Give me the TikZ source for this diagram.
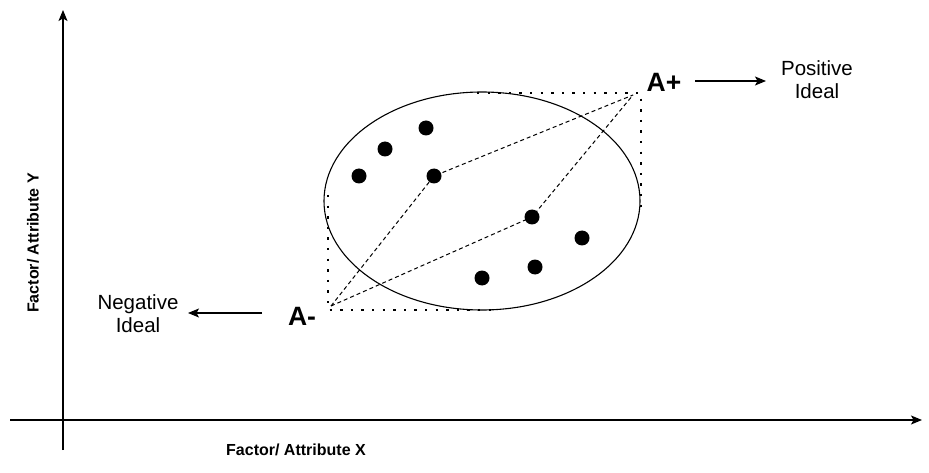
\documentclass[tikz,border=0pt]{standalone}
\usepackage{fontspec}
\setmainfont{Liberation Sans}
\usetikzlibrary{arrows.meta}
\begin{document}
\begin{tikzpicture}[x=1pt,y=-1pt,
  axis/.style={line width=1.4pt,-{Stealth[length=11pt,width=9pt,inset=2.5pt]}},
  lblarrow/.style={line width=1.3pt,-{Stealth[length=11pt,width=9pt,inset=2.5pt]}},
  dotline/.style={line width=2.4pt,dash pattern=on 2.4pt off 8.2pt},
  dashline/.style={line width=1pt,dash pattern=on 4pt off 3pt},
  pt/.style={circle,fill=black,inner sep=0pt,minimum size=15pt},
  axlabel/.style={font=\bfseries\fontsize{16}{19}\selectfont,inner sep=0pt},
  biglabel/.style={font=\bfseries\fontsize{26.5}{30}\selectfont,inner sep=0pt,anchor=base},
  ideal/.style={font=\fontsize{20.5}{23}\selectfont,inner sep=0pt,align=center,anchor=base}]
\useasboundingbox (0,0) rectangle (929,473);
% axes
\coordinate (ybot) at (63,450);
\coordinate (ytop) at (63,10);
\coordinate (xleft) at (10,420);
\coordinate (xright) at (922,420);
\draw[axis] (ybot) -- (ytop);
\draw[axis] (xleft) -- (xright);
\node[axlabel,rotate=90] (ylab) at (33,243) {Factor/ Attribute Y};
\node[axlabel,anchor=base] (xlab) at (296,455) {Factor/ Attribute X};
% ellipse
\draw[line width=1.1pt] (482,201) ellipse [x radius=158, y radius=109];
% dotted bounds
\coordinate (t1) at (477,93);
\coordinate (t2) at (641,93);
\coordinate (t3) at (641,210);
\coordinate (b1) at (328,195);
\coordinate (b2) at (328,310);
\coordinate (b3) at (492,310);
\draw[dotline] (t1) -- (t2) -- (t3);
\draw[dotline] (b1) -- (b2) -- (b3);
% corners
\coordinate (aplus) at (633,95);
\coordinate (aminus) at (331,306);
% points
\node[pt] (d1) at (359,176) {};
\node[pt] (d2) at (385,149) {};
\node[pt] (d3) at (426,128) {};
\node[pt] (d4) at (434,176) {};
\node[pt] (d5) at (532,217) {};
\node[pt] (d6) at (582,238) {};
\node[pt] (d7) at (535,267) {};
\node[pt] (d8) at (482,278) {};
% dashed lines
\draw[dashline] (aminus) -- (d4.center) -- (aplus);
\draw[dashline] (aminus) -- (d5.center) -- (aplus);
% labels
\node[biglabel] (Ap) at (664,92) {A+};
\node[biglabel] (Am) at (302,325) {A-};
\node[ideal] (pos) at (817,99) {Positive\\Ideal};
\node[ideal] (neg) at (138,332) {Negative\\Ideal};
\coordinate (pa1) at (695,81);
\coordinate (pa2) at (766,81);
\coordinate (na1) at (262,313);
\coordinate (na2) at (188,313);
\draw[lblarrow] (pa1) -- (pa2);
\draw[lblarrow] (na1) -- (na2);
\end{tikzpicture}
\end{document}
